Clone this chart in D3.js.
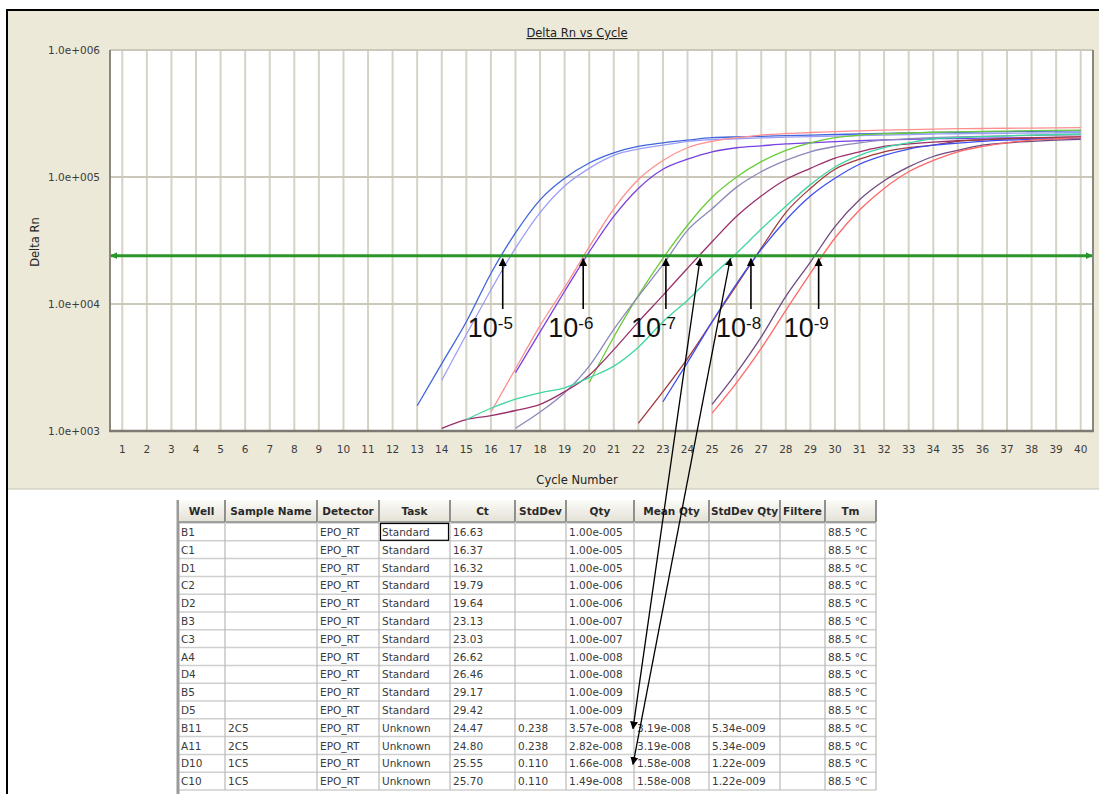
<!DOCTYPE html>
<html>
<head>
<meta charset="utf-8">
<script src="https://cdn.jsdelivr.net/npm/d3@7"></script>
<style>
  body { margin: 0; background: #fff; }
  svg { display: block; font-family: "DejaVu Sans", sans-serif; }
</style>
</head>
<body>
<svg id="chart" width="1099" height="794"></svg>
<script>
// ---- data ----
const cycleTicks = [1,2,3,4,5,6,7,8,9,10,11,12,13,14,15,16,17,18,19,20,21,22,23,24,25,26,27,28,29,30,31,32,33,34,35,36,37,38,39,40];
const yTicks = [1e3, 1e4, 1e5, 1e6];
const yTickLabels = ["1.0e+003", "1.0e+004", "1.0e+005", "1.0e+006"];
const threshold = 24000;

// amplification curves: first visible cycle + Delta Rn per cycle
const curveStart = [13, 14, 16, 17, 20, 17, 14, 15, 22, 23, 25, 25];
const curveValues = [
  [1580, 3390, 7240, 17400, 36300, 66100, 97700, 129000, 155000, 174000, 186000, 195000, 204000, 207000, 209000, 212000, 214000, 216000, 218000, 220000, 222000, 224000, 225000, 227000, 228000, 229000, 230000, 231000],
  [2510, 5750, 12900, 27500, 52500, 85100, 117000, 148000, 166000, 178000, 191000, 197000, 200000, 203000, 206000, 208000, 210000, 212000, 214000, 216000, 218000, 219000, 220000, 221000, 222000, 223000, 224000],
  [1410, 3090, 6760, 13500, 28200, 56200, 95500, 135000, 170000, 191000, 204000, 214000, 220000, 224000, 228000, 231000, 234000, 236000, 238000, 240000, 241000, 242000, 243000, 244000, 245000],
  [2880, 6030, 12600, 25700, 49000, 81300, 115000, 138000, 158000, 170000, 176000, 182000, 186000, 190000, 193000, 196000, 198000, 200000, 201000, 202000, 203000, 204000, 205000, 206000],
  [2400, 5500, 11700, 22900, 41700, 69200, 100000, 132000, 162000, 186000, 204000, 214000, 219000, 222000, 225000, 227000, 229000, 230000, 232000, 233000, 234000],
  [1050, 1410, 2000, 3240, 6310, 11500, 20400, 38000, 56200, 83200, 110000, 135000, 158000, 174000, 186000, 195000, 200000, 204000, 207000, 209000, 211000, 213000, 214000, 215000],
  [1050, 1230, 1320, 1450, 1620, 2040, 2750, 4370, 7240, 11700, 19100, 30900, 49000, 70800, 95500, 117000, 141000, 158000, 174000, 182000, 188000, 193000, 197000, 200000, 202000, 204000, 206000],
  [1230, 1510, 1780, 2000, 2190, 2630, 3240, 4570, 7240, 10700, 16600, 25100, 38900, 58900, 87100, 120000, 148000, 170000, 186000, 200000, 204000, 208000, 211000, 214000, 216000, 218000],
  [1150, 2040, 3720, 7240, 14100, 27500, 52500, 81300, 115000, 138000, 158000, 170000, 178000, 191000, 196000, 200000, 203000, 205000, 207000],
  [1700, 3470, 7240, 14500, 26900, 45700, 70800, 97700, 126000, 148000, 166000, 178000, 185000, 191000, 195000, 198000, 200000, 202000],
  [1620, 2880, 5500, 11500, 21400, 40700, 66100, 93300, 120000, 145000, 162000, 178000, 186000, 191000, 195000, 198000],
  [1380, 2400, 4470, 8910, 17400, 33100, 55000, 81300, 110000, 135000, 158000, 174000, 186000, 195000, 200000, 204000]
];
const curveColors = ["#3f66dc", "#9c9ef6", "#ff8f8f", "#7742e0", "#6acc3a", "#8c88ba",
                     "#9a2f6a", "#3fd6a2", "#a23a3a", "#3f4ff0", "#6e4a80", "#ff6868"];

// results table
const headers = ["Well", "Sample Name", "Detector", "Task", "Ct", "StdDev", "Qty", "Mean Qty", "StdDev Qty", "Filtere", "Tm"];
const wells = ["B1","C1","D1","C2","D2","B3","C3","A4","D4","B5","D5","B11","A11","D10","C10"];
const sampleNames = ["","","","","","","","","","","","2C5","2C5","1C5","1C5"];
const detectors = Array(15).fill("EPO_RT");
const tasks = ["Standard","Standard","Standard","Standard","Standard","Standard","Standard","Standard","Standard","Standard","Standard","Unknown","Unknown","Unknown","Unknown"];
const ctValues = [16.63, 16.37, 16.32, 19.79, 19.64, 23.13, 23.03, 26.62, 26.46, 29.17, 29.42, 24.47, 24.80, 25.55, 25.70];
const stdDevs = ["","","","","","","","","","","","0.238","0.238","0.110","0.110"];
const qtys = ["1.00e-005","1.00e-005","1.00e-005","1.00e-006","1.00e-006","1.00e-007","1.00e-007","1.00e-008","1.00e-008","1.00e-009","1.00e-009","3.57e-008","2.82e-008","1.66e-008","1.49e-008"];
const meanQtys = ["","","","","","","","","","","","3.19e-008","3.19e-008","1.58e-008","1.58e-008"];
const stdDevQtys = ["","","","","","","","","","","","5.34e-009","5.34e-009","1.22e-009","1.22e-009"];
const filtered = Array(15).fill("");
const tmValues = Array(15).fill("88.5 °C");

// dilution labels pointing at the standards' Ct
const dilutionExp = ["-5", "-6", "-7", "-8", "-9"];
const dilutionQty = ["1.00e-005", "1.00e-006", "1.00e-007", "1.00e-008", "1.00e-009"];
// unknown wells linked to the plot
const linkedWells = ["B11", "D10"];
const linkedCt = [24.47, 25.70];

// ---- drawing ----
const svg = d3.select("#chart");
const plot = { left: 110, right: 1093, top: 50, bottom: 431 };

const x = d3.scaleLinear().domain([0.5, 40.5]).range([plot.left, plot.right]);
const y = d3.scaleLog().domain([1e3, 1e6]).range([plot.bottom, plot.top]);

const defs = svg.append("defs");
defs.append("clipPath").attr("id", "clip")
  .append("rect").attr("x", plot.left).attr("y", plot.top)
  .attr("width", plot.right - plot.left).attr("height", plot.bottom - plot.top);
defs.append("marker").attr("id", "ah").attr("viewBox", "0 0 10 10")
  .attr("refX", 9).attr("refY", 5).attr("markerWidth", 8).attr("markerHeight", 10)
  .attr("markerUnits", "userSpaceOnUse").attr("orient", "auto-start-reverse")
  .append("path").attr("d", "M0,0 L10,5 L0,10 z").attr("fill", "#000");
defs.append("marker").attr("id", "gh").attr("viewBox", "0 0 10 10")
  .attr("refX", 9).attr("refY", 5).attr("markerWidth", 7).attr("markerHeight", 8)
  .attr("markerUnits", "userSpaceOnUse").attr("orient", "auto-start-reverse")
  .append("path").attr("d", "M0,0 L10,5 L0,10 z").attr("fill", "#2a962a");
const hg = defs.append("linearGradient").attr("id", "hdr").attr("x1", 0).attr("x2", 0).attr("y1", 0).attr("y2", 1);
hg.append("stop").attr("offset", "0%").attr("stop-color", "#fbfbf8");
hg.append("stop").attr("offset", "100%").attr("stop-color", "#e4e1d5");

// beige panel
svg.append("rect").attr("x", 8).attr("y", 11).attr("width", 1091).attr("height", 478).attr("fill", "#ece9d8");
svg.append("line").attr("x1", 8).attr("x2", 1099).attr("y1", 489).attr("y2", 489).attr("stroke", "#c4c1b4");

// plot area
svg.append("rect").attr("x", plot.left).attr("y", plot.top)
  .attr("width", plot.right - plot.left).attr("height", plot.bottom - plot.top).attr("fill", "#fff");

// vertical grid (one per cycle)
svg.append("g").selectAll("line").data(cycleTicks).join("line")
  .attr("x1", d => x(d)).attr("x2", d => x(d))
  .attr("y1", plot.top).attr("y2", plot.bottom)
  .attr("stroke", "#d6d2c6").attr("stroke-width", 2);
// horizontal grid (decades)
svg.append("g").selectAll("line").data(yTicks.slice(1)).join("line")
  .attr("x1", plot.left).attr("x2", plot.right)
  .attr("y1", d => y(d)).attr("y2", d => y(d))
  .attr("stroke", "#cbc7b9").attr("stroke-width", 2);

// axes frame
svg.append("line").attr("x1", plot.left).attr("x2", plot.left).attr("y1", plot.top).attr("y2", plot.bottom)
  .attr("stroke", "#8a877e").attr("stroke-width", 2);
svg.append("line").attr("x1", plot.right).attr("x2", plot.right).attr("y1", plot.top).attr("y2", plot.bottom)
  .attr("stroke", "#8a877e").attr("stroke-width", 2);
svg.append("line").attr("x1", plot.left - 1).attr("x2", plot.right + 1).attr("y1", plot.bottom).attr("y2", plot.bottom)
  .attr("stroke", "#7c7a72").attr("stroke-width", 2.5);

// tick labels
svg.append("g").selectAll("text").data(cycleTicks).join("text")
  .attr("x", d => x(d)).attr("y", 453).attr("text-anchor", "middle")
  .attr("font-size", "10.5px").attr("fill", "#3c3c3c").text(d => d);
svg.append("g").selectAll("text").data(yTicks).join("text")
  .attr("x", 100).attr("y", d => y(d) + 4).attr("text-anchor", "end")
  .attr("font-size", "10.5px").attr("fill", "#3c3c3c").text((d, i) => yTickLabels[i]);

// titles
svg.append("text").attr("x", 577).attr("y", 37).attr("text-anchor", "middle")
  .attr("font-size", "11.5px").attr("fill", "#222").attr("text-decoration", "underline").text("Delta Rn vs Cycle");
svg.append("text").attr("transform", "translate(39,242) rotate(-90)").attr("text-anchor", "middle")
  .attr("font-size", "11.5px").attr("fill", "#222").text("Delta Rn");
svg.append("text").attr("x", 577).attr("y", 484).attr("text-anchor", "middle")
  .attr("font-size", "11.5px").attr("fill", "#222").text("Cycle Number");

// curves
const line = d3.line().x(d => x(d[0])).y(d => y(d[1])).curve(d3.curveMonotoneX);
svg.append("g").attr("clip-path", "url(#clip)")
  .selectAll("path").data(curveValues).join("path")
  .attr("d", (vals, i) => line(vals.map((v, j) => [curveStart[i] + j, v])))
  .attr("fill", "none").attr("stroke", (d, i) => curveColors[i]).attr("stroke-width", 1.3);

// threshold
svg.append("line").attr("x1", plot.left + 1).attr("x2", plot.right - 1)
  .attr("y1", y(threshold)).attr("y2", y(threshold))
  .attr("stroke", "#2a962a").attr("stroke-width", 3)
  .attr("marker-start", "url(#gh)").attr("marker-end", "url(#gh)");

// dilution arrows and labels
const groupCt = dilutionQty.map(q => d3.mean(ctValues.filter((c, i) => qtys[i] === q && tasks[i] === "Standard")));
const ann = svg.append("g").selectAll("g").data(groupCt).join("g");
ann.append("line")
  .attr("x1", d => x(d) + 1).attr("x2", d => x(d) + 1)
  .attr("y1", 309).attr("y2", y(threshold) + 3)
  .attr("stroke", "#000").attr("stroke-width", 1.6).attr("marker-end", "url(#ah)");
const lbl = ann.append("text")
  .attr("x", d => x(d) - 34).attr("y", 337)
  .attr("font-family", "'Liberation Sans', Arial, sans-serif").attr("font-size", "27px").attr("fill", "#111");
lbl.append("tspan").text("10");
lbl.append("tspan").attr("dy", -8).attr("font-size", "17px").text((d, i) => dilutionExp[i]);

// ---- table ----
const colEdges = [178, 225, 317, 379, 450, 515, 566, 634, 709, 780, 825, 876];
const headTop = 500, headH = 22, rowTop = 523, rowH = 17.8;
const columns = [wells, sampleNames, detectors, tasks, ctValues.map(v => v.toFixed(2)), stdDevs, qtys, meanQtys, stdDevQtys, filtered, tmValues];

const tbl = svg.append("g").attr("font-size", "10.5px");
// body background and grid
tbl.append("rect").attr("x", colEdges[0]).attr("y", rowTop).attr("width", colEdges[11] - colEdges[0])
  .attr("height", rowH * wells.length).attr("fill", "#fff");
tbl.append("g").selectAll("line").data(d3.range(wells.length + 1)).join("line")
  .attr("x1", colEdges[0]).attr("x2", colEdges[11])
  .attr("y1", i => rowTop + i * rowH).attr("y2", i => rowTop + i * rowH)
  .attr("stroke", "#cfcfcf").attr("stroke-width", 1.5);
tbl.append("g").selectAll("line").data(colEdges.slice(1)).join("line")
  .attr("x1", d => d).attr("x2", d => d).attr("y1", rowTop).attr("y2", rowTop + rowH * wells.length)
  .attr("stroke", "#b9b9b9").attr("stroke-width", 1.2);
tbl.append("line").attr("x1", colEdges[0]).attr("x2", colEdges[0]).attr("y1", headTop)
  .attr("y2", 794).attr("stroke", "#9a9a9a").attr("stroke-width", 3);

// header cells
const hc = tbl.append("g").selectAll("g").data(headers).join("g");
hc.append("rect").attr("x", (d, i) => colEdges[i] + 1).attr("y", headTop)
  .attr("width", (d, i) => colEdges[i + 1] - colEdges[i] - 1).attr("height", headH)
  .attr("fill", "url(#hdr)");
hc.append("line").attr("x1", (d, i) => colEdges[i + 1]).attr("x2", (d, i) => colEdges[i + 1])
  .attr("y1", headTop).attr("y2", headTop + headH).attr("stroke", "#6e6e6e").attr("stroke-width", 1.5);
hc.append("line").attr("x1", (d, i) => colEdges[i] + 1).attr("x2", (d, i) => colEdges[i + 1])
  .attr("y1", headTop + headH).attr("y2", headTop + headH).attr("stroke", "#8a8a8a").attr("stroke-width", 1.5);
hc.append("text").attr("x", (d, i) => (colEdges[i] + colEdges[i + 1]) / 2).attr("y", headTop + 15)
  .attr("text-anchor", "middle").attr("font-weight", "bold").attr("fill", "#2a2a2a").text(d => d);

// cell text
columns.forEach((col, c) => {
  tbl.append("g").selectAll("text").data(col).join("text")
    .attr("x", colEdges[c] + 3).attr("y", (d, r) => rowTop + r * rowH + 13)
    .attr("fill", "#3a3a3a").text(d => d);
});
// focus box on first Task cell
tbl.append("rect").attr("x", colEdges[3] + 1.5).attr("y", rowTop + 0.5)
  .attr("width", colEdges[4] - colEdges[3] - 3).attr("height", rowH - 1)
  .attr("fill", "none").attr("stroke", "#000").attr("stroke-width", 1.2);

// links from unknown wells to their threshold crossing
svg.append("g").selectAll("line").data(linkedWells).join("line")
  .attr("x1", colEdges[7] - 1).attr("y1", w => rowTop + wells.indexOf(w) * rowH + rowH / 2 + 1)
  .attr("x2", (w, i) => x(linkedCt[i]) + 1).attr("y2", y(threshold) + 3)
  .attr("stroke", "#000").attr("stroke-width", 1.3)
  .attr("marker-start", "url(#ah)").attr("marker-end", "url(#ah)");

// outer black frame
svg.append("line").attr("x1", 7).attr("x2", 1099).attr("y1", 10).attr("y2", 10).attr("stroke", "#000").attr("stroke-width", 2);
svg.append("line").attr("x1", 7).attr("x2", 7).attr("y1", 9).attr("y2", 794).attr("stroke", "#000").attr("stroke-width", 2);
</script>
</body>
</html>
